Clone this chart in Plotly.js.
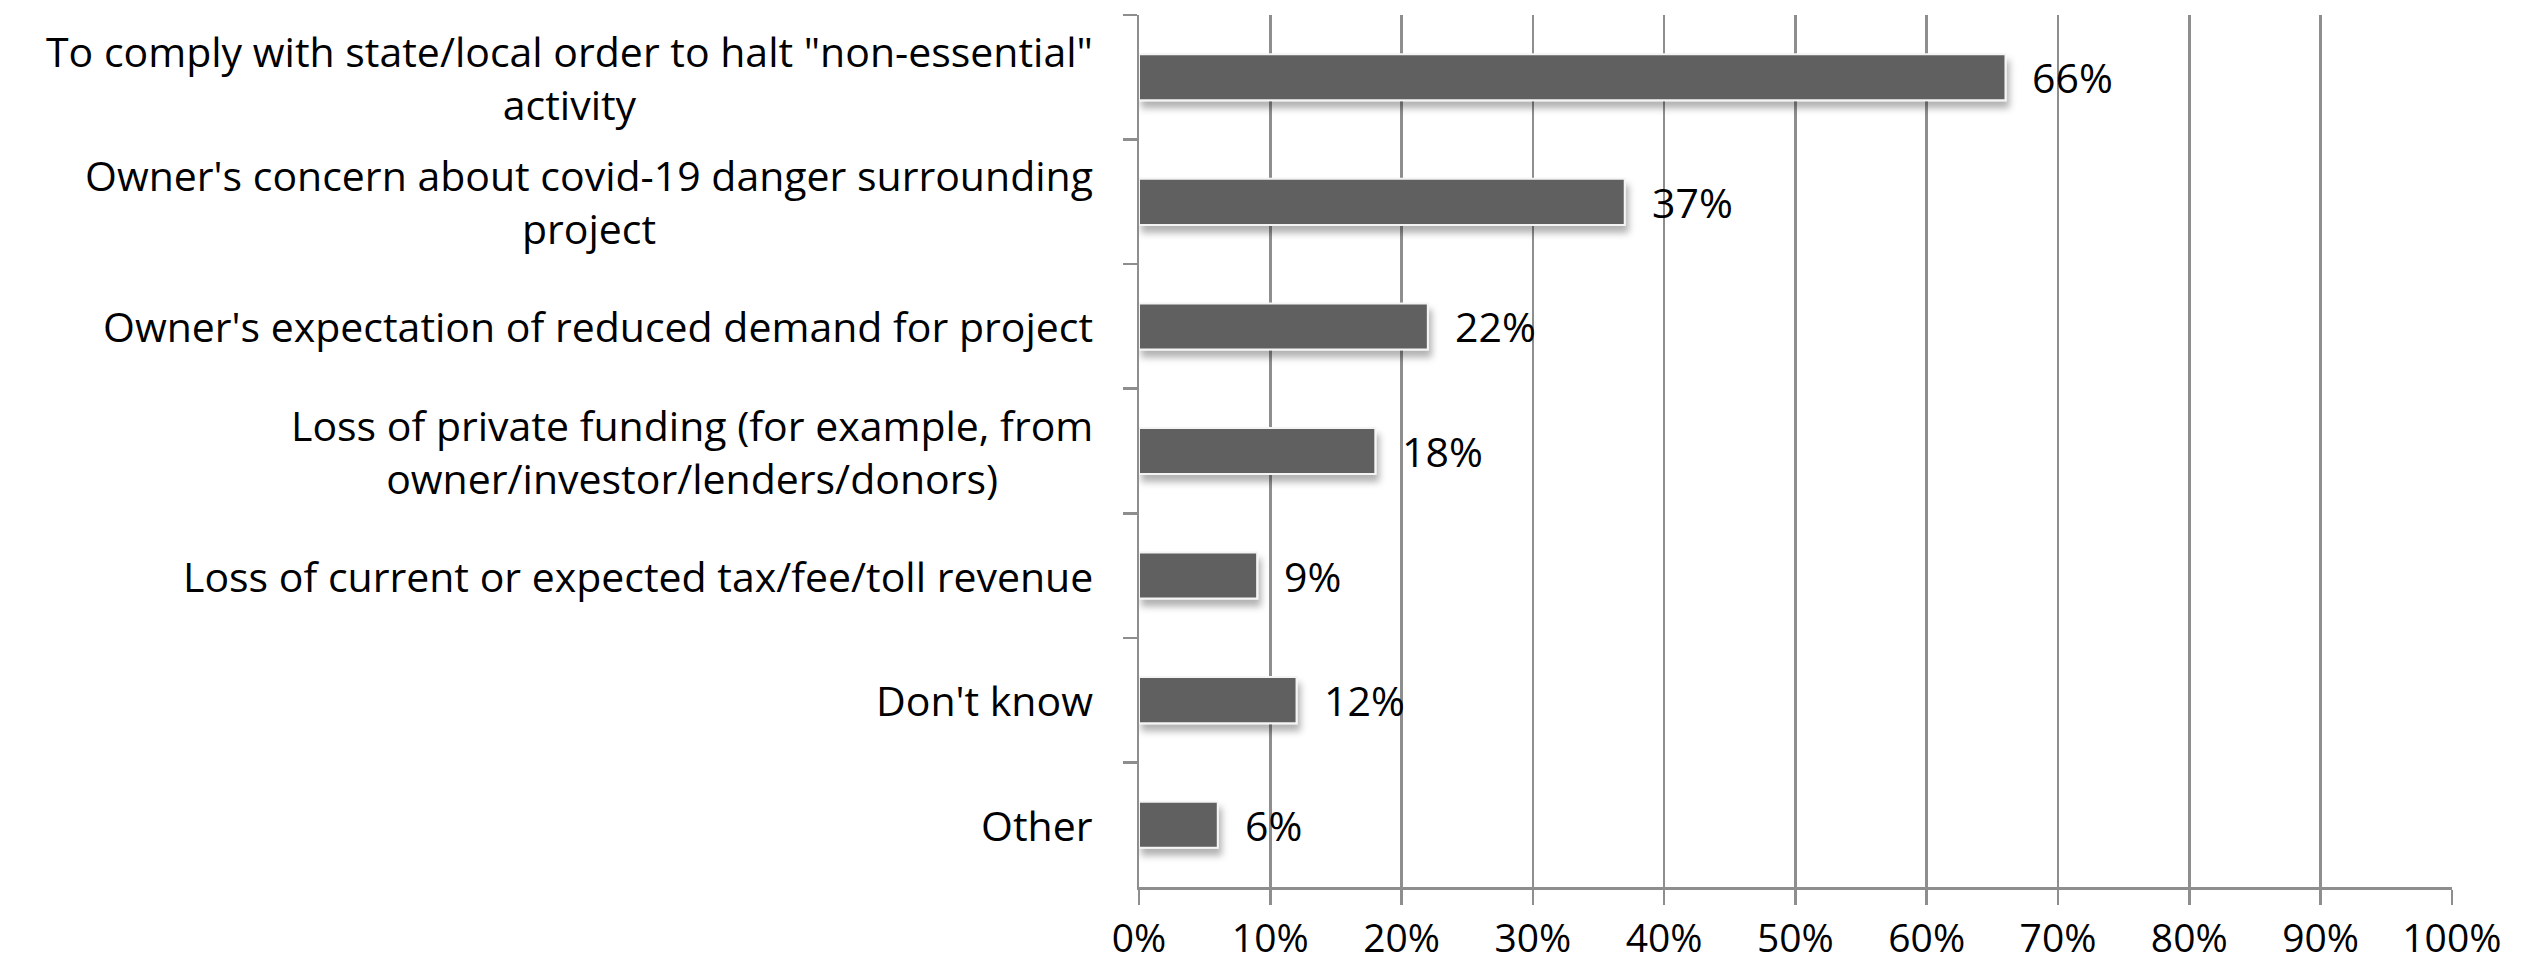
<!DOCTYPE html>
<html>
<head>
<meta charset="utf-8">
<script src="https://cdn.plot.ly/plotly-3.0.1.min.js"></script>
<style>
  html, body { margin: 0; padding: 0; background: #ffffff; }
  #chart { width: 2524px; height: 967px; }
</style>
</head>
<body>
<div id="chart"></div>
<script>
// ---- data ----
const categories = [
  'To comply with state/local order to halt "non-essential"<br>activity',
  "Owner's concern about covid-19 danger surrounding<br>project",
  "Owner's expectation of reduced demand for project",
  "Loss of private funding (for example, from<br>owner/investor/lenders/donors)",
  "Loss of current or expected tax/fee/toll revenue",
  "Don't know",
  "Other"
];
const values = [66, 37, 22, 18, 9, 12, 6];
const valueLabels = ["66%", "37%", "22%", "18%", "9%", "12%", "6%"];
const xTickVals = [0, 10, 20, 30, 40, 50, 60, 70, 80, 90, 100];
const xTickText = ["0%", "10%", "20%", "30%", "40%", "50%", "60%", "70%", "80%", "90%", "100%"];

const FONT = '"Open Sans", sans-serif';
const FS_LABEL = 41;
const FS_NUM = 41;
const FS_TICK = 39;

const ids = categories.map((c, i) => 'c' + i);

const bars = {
  type: 'bar',
  orientation: 'h',
  y: ids,
  x: values,
  width: 0.37,
  marker: { color: '#606060', line: { color: '#f4f4f4', width: 2 } },
  hoverinfo: 'skip'
};

const annotations = [];
categories.forEach((c, i) => {
  annotations.push({
    xref: 'paper', yref: 'y', x: 0, y: ids[i],
    xanchor: 'right', yanchor: 'middle', xshift: -44,
    text: c, showarrow: false, align: 'center',
    font: { family: FONT, size: FS_LABEL, color: '#000000' }
  });
  annotations.push({
    xref: 'x', yref: 'y', x: values[i], y: ids[i],
    xanchor: 'left', yanchor: 'middle', xshift: 25,
    text: valueLabels[i], showarrow: false,
    font: { family: FONT, size: FS_NUM, color: '#000000' }
  });
});

const layout = {
  width: 2524, height: 967,
  margin: { l: 1139, r: 72, t: 15, b: 80 },
  paper_bgcolor: '#ffffff', plot_bgcolor: '#ffffff',
  showlegend: false,
  font: { family: FONT, size: FS_NUM, color: '#000000' },
  xaxis: {
    range: [0, 100.01],
    tickvals: xTickVals, ticktext: xTickText,
    showgrid: true, gridcolor: '#8e8e8e', gridwidth: 2.5,
    zeroline: false,
    showline: true, linecolor: '#8e8e8e', linewidth: 3,
    ticks: 'outside', ticklen: 15, tickwidth: 2.5, tickcolor: '#8e8e8e',
    ticklabelstandoff: 0,
    tickfont: { family: FONT, size: FS_TICK, color: '#000000' },
    fixedrange: true
  },
  yaxis: {
    type: 'category',
    autorange: 'reversed',
    showticklabels: false,
    tickson: 'boundaries',
    ticks: 'outside', ticklen: 14, tickwidth: 2.5, tickcolor: '#8e8e8e',
    showgrid: false, zeroline: false,
    showline: true, linecolor: '#8e8e8e', linewidth: 2.5,
    fixedrange: true
  },
  annotations: annotations
};

Plotly.newPlot('chart', [bars], layout, { displayModeBar: false, staticPlot: true }).then(gd => {
  // soft drop shadow under the bars, as in the reference
  const svg = gd.querySelector('svg.main-svg');
  const NS = 'http://www.w3.org/2000/svg';
  let defs = svg.querySelector('defs');
  if (!defs) { defs = document.createElementNS(NS, 'defs'); svg.insertBefore(defs, svg.firstChild); }
  const filter = document.createElementNS(NS, 'filter');
  filter.setAttribute('id', 'barShadow');
  filter.setAttribute('x', '-10%'); filter.setAttribute('y', '-30%');
  filter.setAttribute('width', '130%'); filter.setAttribute('height', '180%');
  const ds = document.createElementNS(NS, 'feDropShadow');
  ds.setAttribute('dx', '3'); ds.setAttribute('dy', '7');
  ds.setAttribute('stdDeviation', '3.5');
  ds.setAttribute('flood-color', '#000000'); ds.setAttribute('flood-opacity', '0.3');
  filter.appendChild(ds);
  defs.appendChild(filter);
  gd.querySelectorAll('.barlayer .point path').forEach(p => p.setAttribute('filter', 'url(#barShadow)'));
});
</script>
</body>
</html>
